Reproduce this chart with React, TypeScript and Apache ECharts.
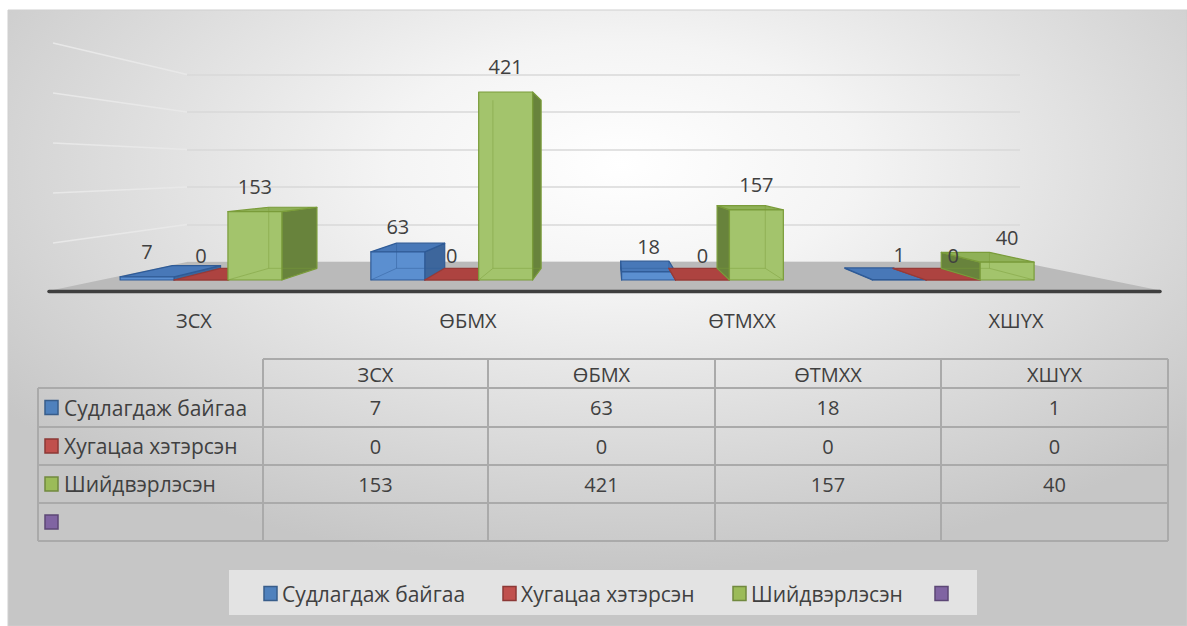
import React, { useEffect, useRef } from 'react';
import * as echarts from 'echarts';

// ---------- data ----------
const categories = ['ЗСХ', 'ӨБМХ', 'ӨТМХХ', 'ХШҮХ'];
const seriesNames = ['Судлагдаж байгаа', 'Хугацаа хэтэрсэн', 'Шийдвэрлэсэн', ''];
const studying = [7, 63, 18, 1];
const overdue = [0, 0, 0, 0];
const resolved = [153, 421, 157, 40];
const fourth: (number | null)[] = [null, null, null, null];
const valueTicks = [0, 100, 200, 300, 400, 500];

const seriesValues = [studying, overdue, resolved, fourth];

// ---------- styles ----------
const FONT = "'Open Sans', 'Noto Sans', sans-serif";
const TEXT = '#404040';
const NAME_SIZE = 21;
const palettes = [
  { front: '#5b8fd0', top: '#4878b8', side: '#3d669c', edge: '#2f5b97', legend: '#4f81bd', legendEdge: '#385d8a' },
  { front: '#c4524f', top: '#ad4340', side: '#8d3634', edge: '#983a37', legend: '#c0504d', legendEdge: '#8c3836' },
  { front: '#a3c46c', top: '#8fb157', side: '#68833c', edge: '#7a9c3a', legend: '#9bbb59', legendEdge: '#71893f' },
  { front: '#8064a2', top: '#8064a2', side: '#8064a2', edge: '#5c4776', legend: '#8064a2', legendEdge: '#5c4776' },
];

// perspective (layout) constants
const VPX = 613;
const VPY = 170;
const DEPTH = 0.894;
const back = (p: number[]) => [VPX + (p[0] - VPX) * DEPTH, VPY + (p[1] - VPY) * DEPTH];

// back wall / floor geometry
const WALL = { left: 187, right: 1020, top: 74.5, bottom: 262 };
const LEFT_WALL_X = 53;
const LEFT_WALL_SCALE = 0.5; // px per unit on the left edge
const FLOOR_FRONT = { left: 53, right: 1158, y: 290 };

// table geometry
const tableCols = [38, 263, 488, 715, 941, 1168];
const tableRows = [359, 388, 427, 465, 503, 541];

// legend geometry
const legendBox = { x: 229, y: 570, w: 748, h: 45 };
const legendItemX = [264, 503, 733, 935];

function makeRender(si: number) {
  const pal = palettes[si];
  return (params: any, api: any) => {
    const idx = api.value(0);
    const val = api.value(1);
    const topP = api.coord([idx, val]);
    const baseP = api.coord([idx, 0]);
    const band = api.size([1, 0])[0];
    const w = band * 0.215;
    const cx = topP[0] + (si - 1) * w;
    const x0 = cx - w / 2;
    const x1 = cx + w / 2;
    const yT = topP[1];
    const yB = baseP[1];
    const fTL = [x0, yT], fTR = [x1, yT], fBL = [x0, yB], fBR = [x1, yB];
    const bTL = back(fTL), bTR = back(fTR), bBL = back(fBL), bBR = back(fBR);
    const children: any[] = [];
    const faceStyle = (fill: string) => ({ fill, stroke: pal.edge, lineWidth: 1.2, lineJoin: 'round' });
    const rightSide = x1 < VPX;
    const leftSide = x0 > VPX;
    if (rightSide) {
      children.push({ type: 'polygon', shape: { points: [fTR, bTR, bBR, fBR] }, style: faceStyle(pal.side) });
    }
    if (leftSide) {
      children.push({ type: 'polygon', shape: { points: [fTL, bTL, bBL, fBL] }, style: faceStyle(pal.side) });
    }
    if (yT > VPY) {
      children.push({ type: 'polygon', shape: { points: [fTL, fTR, bTR, bTL] }, style: faceStyle(pal.top) });
    }
    children.push({
      type: 'rect',
      shape: { x: x0, y: yT, width: w, height: yB - yT },
      style: faceStyle(pal.front),
    });
    // hidden edges seen through the translucent face
    const hidden: number[][][] = [];
    if (rightSide) {
      hidden.push([bTL, bBL], [bBL, bBR], [fBL, bBL]);
    } else {
      hidden.push([bTR, bBR], [bBL, bBR], [fBR, bBR]);
    }
    if (yB - yT > 6) {
      hidden.forEach((seg) => {
        children.push({
          type: 'line',
          shape: { x1: seg[0][0], y1: seg[0][1], x2: seg[1][0], y2: seg[1][1] },
          style: { stroke: pal.edge, lineWidth: 1, opacity: 0.45 },
        });
      });
    }
    children.push({
      type: 'text',
      z2: 100,
      style: {
        text: String(val),
        x: cx,
        y: yT - 25,
        align: 'center',
        verticalAlign: 'middle',
        fontSize: 20,
        fontFamily: FONT,
        fill: TEXT,
      },
    });
    return { type: 'group', children };
  };
}

function buildGraphics() {
  const els: any[] = [];
  // background
  els.push({
    type: 'rect',
    z: -5,
    shape: { x: 8, y: 10, width: 1179, height: 616 },
    style: {
      fill: {
        type: 'radial',
        x: 0.52,
        y: 0.25,
        r: 0.66,
        colorStops: [
          { offset: 0, color: '#ffffff' },
          { offset: 0.3, color: '#f4f4f4' },
          { offset: 1, color: '#c6c6c6' },
        ],
      },
      stroke: '#cfcfcf',
      lineWidth: 1,
    },
  });
  // left wall grid lines
  valueTicks.forEach((t) => {
    if (t === 0) return;
    const yRight = WALL.bottom - (t / valueTicks[valueTicks.length - 1]) * (WALL.bottom - WALL.top);
    const yLeft = FLOOR_FRONT.y + 3 - t * LEFT_WALL_SCALE;
    els.push({
      type: 'line',
      z: 0,
      shape: { x1: LEFT_WALL_X, y1: yLeft, x2: WALL.left, y2: yRight },
      style: { stroke: '#e8e8e8', lineWidth: 1.5 },
    });
  });
  // floor
  els.push({
    type: 'polygon',
    z: 1,
    shape: {
      points: [
        [WALL.left, WALL.bottom],
        [WALL.right, WALL.bottom],
        [FLOOR_FRONT.right, FLOOR_FRONT.y],
        [FLOOR_FRONT.left, FLOOR_FRONT.y],
      ],
    },
    style: { fill: '#bababa' },
  });
  els.push({
    type: 'line',
    z: 1,
    shape: { x1: FLOOR_FRONT.left - 4, y1: FLOOR_FRONT.y + 1.5, x2: FLOOR_FRONT.right + 2, y2: FLOOR_FRONT.y + 1.5 },
    style: { stroke: '#3f3f3f', lineWidth: 3.5, lineCap: 'round' },
  });

  // data table
  const lineStyle = { stroke: '#aaaaaa', lineWidth: 2 };
  tableCols.forEach((x, i) => {
    const y1 = i === 0 ? tableRows[1] : tableRows[0];
    els.push({ type: 'line', z: 1, shape: { x1: x, y1, x2: x, y2: tableRows[tableRows.length - 1] }, style: lineStyle });
  });
  tableRows.forEach((y, i) => {
    const x1 = i === 0 ? tableCols[1] : tableCols[0];
    els.push({ type: 'line', z: 1, shape: { x1, y1: y, x2: tableCols[tableCols.length - 1], y2: y }, style: lineStyle });
  });
  categories.forEach((c, ci) => {
    els.push({
      type: 'text',
      z: 2,
      style: {
        text: c,
        x: (tableCols[ci + 1] + tableCols[ci + 2]) / 2,
        y: (tableRows[0] + tableRows[1]) / 2 + 1,
        align: 'center',
        verticalAlign: 'middle',
        fontSize: 20,
        fontFamily: FONT,
        fill: TEXT,
      },
    });
  });
  seriesNames.forEach((name, si) => {
    const yc = (tableRows[si + 1] + tableRows[si + 2]) / 2;
    const pal = palettes[si];
    els.push({
      type: 'rect',
      z: 2,
      shape: { x: 45, y: yc - 7, width: 13, height: 14 },
      style: { fill: pal.legend, stroke: pal.legendEdge, lineWidth: 1.5 },
    });
    if (name) {
      els.push({
        type: 'text',
        z: 2,
        style: { text: name, x: 64, y: yc, align: 'left', verticalAlign: 'middle', fontSize: NAME_SIZE, fontFamily: FONT, fill: TEXT },
      });
    }
    seriesValues[si].forEach((v, ci) => {
      if (v === null || v === undefined) return;
      els.push({
        type: 'text',
        z: 2,
        style: {
          text: String(v),
          x: (tableCols[ci + 1] + tableCols[ci + 2]) / 2,
          y: yc,
          align: 'center',
          verticalAlign: 'middle',
          fontSize: 20,
          fontFamily: FONT,
          fill: TEXT,
        },
      });
    });
  });

  // legend
  els.push({
    type: 'rect',
    z: 1,
    shape: { x: legendBox.x, y: legendBox.y, width: legendBox.w, height: legendBox.h },
    style: { fill: '#e3e3e3' },
  });
  const ly = legendBox.y + legendBox.h / 2 + 1;
  seriesNames.forEach((name, si) => {
    const pal = palettes[si];
    const x = legendItemX[si];
    els.push({
      type: 'rect',
      z: 2,
      shape: { x, y: ly - 7, width: 13, height: 14 },
      style: { fill: pal.legend, stroke: pal.legendEdge, lineWidth: 1.5 },
    });
    if (name) {
      els.push({
        type: 'text',
        z: 2,
        style: { text: name, x: x + 18, y: ly, align: 'left', verticalAlign: 'middle', fontSize: NAME_SIZE, fontFamily: FONT, fill: TEXT },
      });
    }
  });
  return els;
}

export default function App() {
  const ref = useRef<HTMLDivElement>(null);
  useEffect(() => {
    if (!ref.current) return;
    const chart = echarts.init(ref.current, undefined, { renderer: 'svg' });
    const maxV = valueTicks[valueTicks.length - 1];
    const barSeries = [0, 1, 2].map((si) => ({
      type: 'custom',
      name: seriesNames[si],
      xAxisIndex: 1,
      yAxisIndex: 1,
      z: 2,
      clip: false,
      renderItem: makeRender(si),
      encode: { x: 0, y: 1 },
      data: seriesValues[si].map((v, i) => [i, v]),
    }));
    chart.setOption({
      animation: false,
      backgroundColor: '#ffffff',
      grid: [
        { left: WALL.left, top: WALL.top, width: WALL.right - WALL.left, height: WALL.bottom - WALL.top },
        { left: 75.6, top: 56.7, width: 1003, height: 223.3 },
        { left: 57, top: 100, width: 1096, height: 190 },
      ],
      xAxis: [
        { type: 'category', gridIndex: 0, data: categories, show: false },
        { type: 'category', gridIndex: 1, data: categories, show: false },
        {
          type: 'category',
          gridIndex: 2,
          data: categories,
          axisLine: { show: false },
          axisTick: { show: false },
          axisLabel: { fontSize: 20, fontFamily: FONT, color: TEXT, margin: 20 },
        },
      ],
      yAxis: [
        {
          type: 'value',
          gridIndex: 0,
          min: 0,
          max: maxV,
          interval: 100,
          axisLabel: { show: false },
          axisLine: { show: false },
          axisTick: { show: false },
          splitLine: { lineStyle: { color: '#d9d9d9', width: 1.5 } },
        },
        { type: 'value', gridIndex: 1, min: 0, max: maxV, show: false, splitLine: { show: false } },
        { type: 'value', gridIndex: 2, show: false, splitLine: { show: false } },
      ],
      graphic: { elements: buildGraphics() },
      series: barSeries,
    });
    return () => chart.dispose();
  }, []);
  return <div ref={ref} style={{ position: 'absolute', left: 0, top: 0, width: 1187, height: 626 }} />;
}
